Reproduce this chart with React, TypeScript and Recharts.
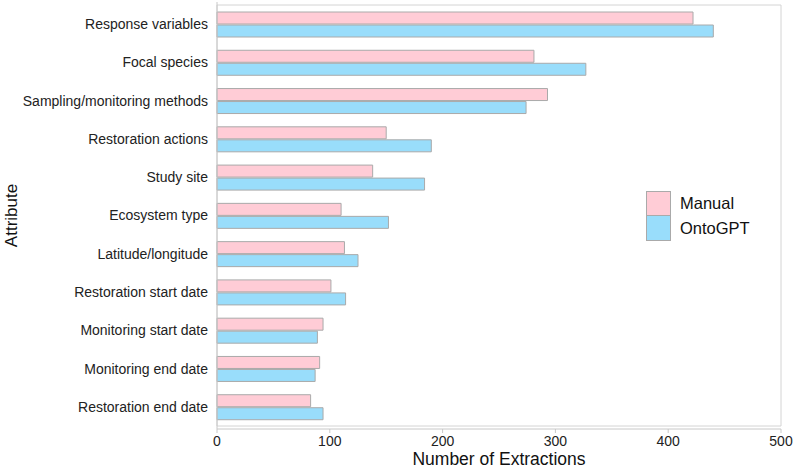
import React from 'react';
import { BarChart, Bar, XAxis, YAxis, ReferenceArea, Label } from 'recharts';

const attributes = [
  'Response variables',
  'Focal species',
  'Sampling/monitoring methods',
  'Restoration actions',
  'Study site',
  'Ecosystem type',
  'Latitude/longitude',
  'Restoration start date',
  'Monitoring start date',
  'Monitoring end date',
  'Restoration end date',
];
const manual = [422, 281, 293, 150, 138, 110, 113, 101, 94, 91, 83];
const ontoGPT = [440, 327, 274, 190, 184, 152, 125, 114, 89, 87, 94];
const xTicks = [0, 100, 200, 300, 400, 500];

const PINK = '#ffccd6';
const BLUE = '#99ddfb';
const EDGE = '#aaaaaa';
const AXIS = '#c8c8c8';
const FONT = '"Liberation Sans", Arial, sans-serif';

const data = attributes.map((a, i) => ({ attribute: a, Manual: manual[i], OntoGPT: ontoGPT[i] }));

function LegendBox() {
  const items = [
    { name: 'Manual', color: PINK },
    { name: 'OntoGPT', color: BLUE },
  ];
  return (
    <div style={{ position: 'absolute', left: 646, top: 191, fontFamily: FONT }}>
      {items.map((it, i) => (
        <div key={it.name} style={{ display: 'flex', alignItems: 'center', height: 25 }}>
          <div
            style={{
              width: 25,
              height: 25,
              background: it.color,
              border: `1px solid ${EDGE}`,
              borderTopWidth: i === 0 ? 1 : 0,
              boxSizing: 'border-box',
            }}
          />
          <span style={{ marginLeft: 9, fontSize: 16.5, color: '#111' }}>{it.name}</span>
        </div>
      ))}
    </div>
  );
}

export default function App() {
  return (
    <div style={{ position: 'absolute', left: 0, top: 0, width: 794, height: 470, background: '#fff' }}>
      <BarChart
        width={794}
        height={470}
        data={data}
        layout="vertical"
        margin={{ top: 2, right: 13, bottom: 0, left: 0 }}
        barSize={12}
        barGap={1}
      >
        <ReferenceArea x1={0} x2={500} fill="none" stroke="#d4d4d4" strokeWidth={1} ifOverflow="visible" />
        <XAxis
          type="number"
          domain={[0, 500]}
          ticks={xTicks}
          height={41}
          tickSize={4}
          tickLine={{ stroke: AXIS }}
          axisLine={{ stroke: AXIS }}
          tick={{ fontSize: 14, fill: '#222', fontFamily: FONT }}
          tickMargin={3}
        >
          <Label
            value="Number of Extractions"
            position="insideBottom"
            offset={5}
            style={{ fontSize: 17.5, fill: '#111', fontFamily: FONT }}
          />
        </XAxis>
        <YAxis
          type="category"
          dataKey="attribute"
          width={217}
          padding={{ top: 3, bottom: 3 }}
          tickLine={false}
          axisLine={{ stroke: AXIS }}
          tick={{ fontSize: 14, fill: '#222', fontFamily: FONT }}
          tickMargin={3}
          interval={0}
        >
          <Label
            value="Attribute"
            angle={-90}
            position="insideLeft"
            offset={11}
            style={{ fontSize: 17, fill: '#111', fontFamily: FONT, textAnchor: 'middle' }}
          />
        </YAxis>
        <Bar dataKey="Manual" fill={PINK} stroke={EDGE} strokeWidth={1} isAnimationActive={false} />
        <Bar dataKey="OntoGPT" fill={BLUE} stroke={EDGE} strokeWidth={1} isAnimationActive={false} />
      </BarChart>
      <LegendBox />
    </div>
  );
}
